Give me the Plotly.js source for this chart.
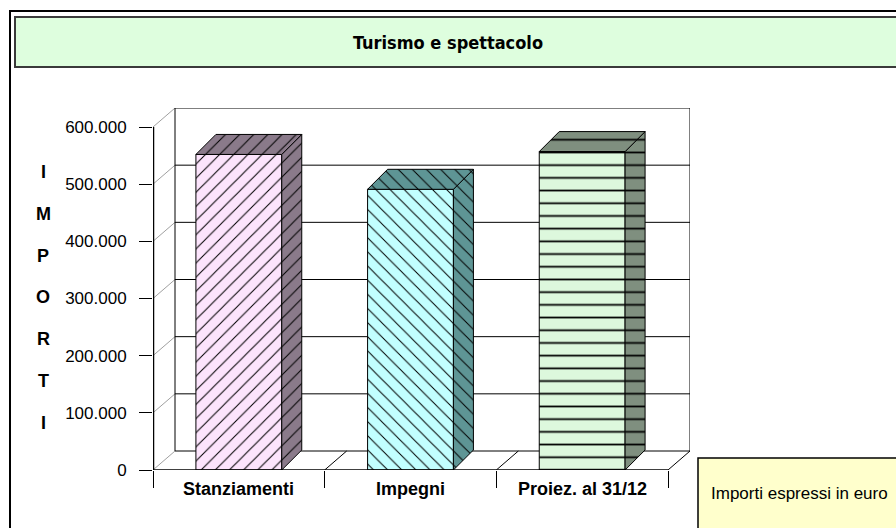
<!DOCTYPE html>
<html><head><meta charset="utf-8">
<script src="https://cdn.plot.ly/plotly-3.0.1.min.js"></script>
<style>html,body{margin:0;padding:0;background:#fff}#chart{width:896px;height:528px}</style>
</head><body><div id="chart"></div>
<script>
// ---- data ----
const categories = ['Stanziamenti', 'Impegni', 'Proiez. al 31/12'];
const values = [552000, 491000, 557000];
const yTickValues = [0, 100000, 200000, 300000, 400000, 500000, 600000];
const chartTitle = 'Turismo e spettacolo';
const axisTitle = 'IMPORTI';
const noteText = 'Importi espressi in euro';

// ---- styles ----
const frontColors = ['#FCE4FC', '#C2FFFF', '#DDF8DD'];
const sideColors = ['#8A7A8A', '#5E9595', '#7F8F7F'];
const patternShapes = ['/', '\\', '-'];
const patternSizes = [10, 10, 12.7];
const patternSolidity = [0.1, 0.1, 0.14];
const FONT = 'Liberation Sans, Arial, sans-serif';

// ---- geometry (pixels) ----
const W = 896, H = 528;
const L = 153, FRONT_W = 515, BOTTOM = 470, SPAN_TOP = 343;
const WALL_DX = 22, WALL_DY = 19, BAR_DX = 20, BAR_DY = 20;
const yTop = yTickValues[yTickValues.length - 1];
const nCat = categories.length;
const pxPerX = FRONT_W / nCat;
const pxPerY = SPAN_TOP / yTop;
const xMin = -0.5, xFront = nCat - 0.5;
const wdx = WALL_DX / pxPerX, wdy = WALL_DY / pxPerY;
const bdx = BAR_DX / pxPerX, bdy = BAR_DY / pxPerY;
const xMax = xFront + wdx, yMax = yTop + wdy;
const plotW = FRONT_W + WALL_DX, plotH = SPAN_TOP + WALL_DY;
const margin = {l: L, r: W - L - plotW, t: BOTTOM - plotH, b: H - BOTTOM, pad: 0};
const px = x => (x - L) / plotW;
const py = y => (BOTTOM - y) / plotH;
const BW = 0.5, hw = BW / 2;

const traces = [];
values.forEach((v, i) => {
  const xr = i + hw, xl = i - hw;
  const pat = {shape: patternShapes[i], fgcolor: '#000', fgopacity: 1, bgcolor: frontColors[i],
               size: patternSizes[i], solidity: patternSolidity[i]};
  const spat = {shape: patternShapes[i], fgcolor: '#000', fgopacity: 1, bgcolor: sideColors[i],
               size: patternSizes[i], solidity: patternSolidity[i]};
  traces.push({
    type: 'bar', x: [i], y: [v], width: BW, hoverinfo: 'skip', showlegend: false,
    marker: {color: frontColors[i], line: {color: '#000', width: 1}, pattern: pat}
  });
  traces.push({
    type: 'scatter', mode: 'lines', hoverinfo: 'skip', showlegend: false,
    x: [xr, xr + bdx, xr + bdx, xr, xr],
    y: [0, bdy, v + bdy, v, 0],
    fill: 'toself', fillcolor: sideColors[i], fillpattern: spat,
    line: {color: '#000', width: 1}
  });
  traces.push({
    type: 'scatter', mode: 'lines', hoverinfo: 'skip', showlegend: false,
    x: [xl, xl + bdx, xr + bdx, xr, xl],
    y: [v, v + bdy, v + bdy, v, v],
    fill: 'toself', fillcolor: sideColors[i], fillpattern: spat,
    line: {color: '#000', width: 1}
  });
});

const shapes = [];
shapes.push({type: 'rect', xref: 'paper', yref: 'paper', layer: 'below',
  x0: px(10), x1: px(912), y0: py(11), y1: py(545), line: {color: '#000', width: 2}});
shapes.push({type: 'rect', xref: 'paper', yref: 'paper', layer: 'below',
  x0: px(15), x1: px(912), y0: py(17), y1: py(67), fillcolor: '#DEFEDE', line: {color: '#3A3A3A', width: 2}});
shapes.push({type: 'rect', xref: 'paper', yref: 'paper', layer: 'below',
  x0: px(698), x1: px(912), y0: py(458), y1: py(545), fillcolor: '#FFFFCC', line: {color: '#000', width: 1.5}});
yTickValues.forEach(t => {
  shapes.push({type: 'line', xref: 'x', yref: 'y', layer: 'below',
    x0: xMin + wdx, x1: xMax, y0: t + wdy, y1: t + wdy, line: {color: '#000', width: 1}});
  shapes.push({type: 'line', xref: 'x', yref: 'y', layer: 'below',
    x0: xMin, x1: xMin + wdx, y0: t, y1: t + wdy, line: {color: '#A0A0A0', width: 1}});
});
[xMin + wdx, xMax].forEach(x => shapes.push({type: 'line', xref: 'x', yref: 'y', layer: 'below',
  x0: x, x1: x, y0: wdy, y1: yTop + wdy, line: {color: '#000', width: 1}}));
for (let i = 1; i <= nCat; i++) {
  const b = i - 0.5;
  shapes.push({type: 'line', xref: 'x', yref: 'y', layer: 'below',
    x0: b, x1: b + wdx, y0: 0, y1: wdy, line: {color: '#000', width: 1}});
}
shapes.push({type: 'line', xref: 'x', yref: 'y', layer: 'above',
  x0: xMin, x1: xFront, y0: 0, y1: 0, line: {color: '#000', width: 1.5}});
shapes.push({type: 'line', xref: 'x', yref: 'y', layer: 'above',
  x0: xMin, x1: xMin, y0: 0, y1: yTop, line: {color: '#000', width: 2.5}});

const annotations = [];
axisTitle.split('').forEach((ch, i) => {
  annotations.push({xref: 'paper', yref: 'paper', x: px(43), y: py(172 + i * 41.8),
    xanchor: 'center', yanchor: 'middle', showarrow: false, text: ch,
    font: {family: FONT, size: 18, color: '#000', weight: 'bold'}});
});
categories.forEach((c, i) => {
  annotations.push({xref: 'x', yref: 'paper', x: i, y: py(489),
    xanchor: 'center', yanchor: 'middle', showarrow: false, text: c,
    font: {family: FONT, size: 18, color: '#000', weight: 'bold'}});
});
annotations.push({xref: 'paper', yref: 'paper', x: px(709), y: py(493),
  xanchor: 'left', yanchor: 'middle', showarrow: false, text: noteText,
  font: {family: FONT, size: 17, color: '#000'}});

const layout = {
  width: W, height: H, margin: margin,
  paper_bgcolor: '#fff', plot_bgcolor: 'rgba(0,0,0,0)',
  separators: ',.',
  showlegend: false, barmode: 'overlay',
  title: {text: chartTitle, xref: 'container', x: 0.5, xanchor: 'center',
          yref: 'container', y: 1 - 43 / H, yanchor: 'middle',
          font: {family: 'DejaVu Sans Condensed, Liberation Sans Narrow, sans-serif', size: 18, color: '#000', weight: 'bold'}},
  xaxis: {range: [xMin, xMax], showgrid: false, zeroline: false, showline: false,
          tickvals: categories.map((c, i) => i - 0.5).concat([nCat - 0.5]),
          ticktext: categories.map(() => '').concat(['']),
          ticks: 'outside', ticklen: 17, tickwidth: 1, tickcolor: '#000', fixedrange: true},
  yaxis: {range: [0, yMax], showgrid: false, zeroline: false, showline: false,
          tickvals: yTickValues, tickformat: ',d',
          ticks: 'outside', ticklen: 13, tickwidth: 1, tickcolor: '#000',
          tickfont: {family: FONT, size: 17, color: '#000'}, ticklabelstandoff: 9, fixedrange: true},
  shapes: shapes, annotations: annotations
};
Plotly.newPlot('chart', traces, layout, {displayModeBar: false, staticPlot: true});
</script></body></html>
